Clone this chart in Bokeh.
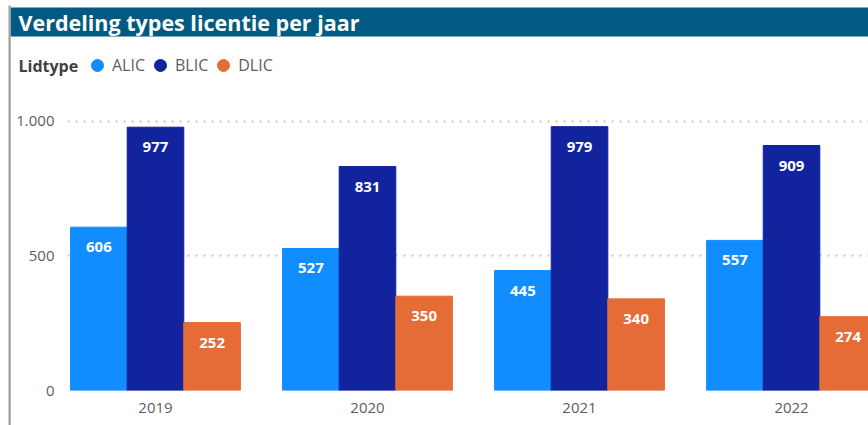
from bokeh.plotting import figure
from bokeh.models import (Range1d, FixedTicker, Label, Legend,
                          LegendItem, ColumnDataSource)
from bokeh.transform import dodge
from bokeh.embed import file_html
from bokeh.resources import INLINE
from bokeh.core.properties import value

# ---- data ----
years = ["2019", "2020", "2021", "2022"]
alic = [606, 527, 445, 557]
blic = [977, 831, 979, 909]
dlic = [252, 350, 340, 274]
series_names = ["ALIC", "BLIC", "DLIC"]
y_ticks = [0, 500, 1000]
y_tick_labels = ["0", "500", "1.000"]
title_text = "Verdeling types licentie per jaar"
legend_title = "Lidtype"

colors = ["#118DFF", "#12239E", "#E66C37"]
FONT = "Open Sans"
AXIS_COLOR = "#605E5C"
W, H = 868, 425

src = ColumnDataSource(dict(x=list(range(len(years))), ALIC=alic, BLIC=blic, DLIC=dlic,
                            ALIC_t=[str(v) for v in alic],
                            BLIC_t=[str(v) for v in blic],
                            DLIC_t=[str(v) for v in dlic]))

p = figure(width=W, height=H, x_range=Range1d(-0.415, 3.363),
           y_range=Range1d(0, 1254.2), output_backend="svg", toolbar_location=None,
           min_border_left=67, min_border_right=0, min_border_top=52,
           min_border_bottom=35)
p.outline_line_color = None

# left grey border line (placed in the left panel so it is not clipped)
p.add_layout(Label(x=8, y=5, x_units="canvas", y_units="canvas", text=".",
                   text_font_size="1px", text_align="left", text_baseline="top",
                   text_color="#A0A0A0", background_fill_color="#A0A0A0",
                   background_fill_alpha=1,
                   padding=dict(left=0, right=2, top=0, bottom=H)), "left")
# title bar
p.add_layout(Label(x=10, y=21.5, x_units="canvas", y_units="canvas",
                   text=title_text, text_color="white",
                   text_font=FONT, text_font_style="bold",
                   text_font_size="21.5px", text_baseline="middle",
                   background_fill_color="#005A82", background_fill_alpha=1,
                   padding=dict(left=8, right=700, top=0, bottom=0)), "above")
# legend heading
p.add_layout(Label(x=18, y=65, x_units="canvas", y_units="canvas",
                   text=legend_title, text_color="#404040",
                   text_font=FONT, text_font_style="bold",
                   text_font_size="16px", text_baseline="middle"), "above")

bw = 0.267
offsets = [-bw, 0, bw]
items = []
nan = float("nan")
for name, c, off in zip(series_names, colors, offsets):
    p.vbar(x=dodge("x", off), top=name, width=bw, source=src,
           fill_color=c, line_color=c)
    p.text(x=dodge("x", off), y=name, text=name + "_t", source=src,
           text_color="white", text_align="center", text_baseline="top",
           y_offset=15, text_font=value(FONT), text_font_size="15px",
           text_font_style="bold")
    r = p.scatter(x=[nan], y=[nan], marker="circle", size=12,
                  fill_color=c, line_color=c)
    items.append(LegendItem(label=name, renderers=[r]))

legend = Legend(items=items, orientation="horizontal", location=(15, 310),
                padding=0, margin=0, border_line_color=None, background_fill_alpha=0,
                glyph_width=30, glyph_height=30, label_height=30,
                label_standoff=-6, spacing=0,
                label_text_font=FONT, label_text_font_size="16px",
                label_text_color=AXIS_COLOR)
p.add_layout(legend)

p.xaxis.ticker = FixedTicker(ticks=list(range(len(years))))
p.xaxis.major_label_overrides = {i: y for i, y in enumerate(years)}
p.yaxis.ticker = FixedTicker(ticks=y_ticks)
p.yaxis.major_label_overrides = dict(zip(y_ticks, y_tick_labels))
for ax in (p.xaxis, p.yaxis):
    ax.axis_line_color = None
    ax.major_tick_line_color = None
    ax.minor_tick_line_color = None
    ax.major_label_text_font = FONT
    ax.major_label_text_font_size = "15px"
    ax.major_label_text_color = AXIS_COLOR
p.xaxis.major_label_standoff = 6
p.yaxis.major_label_standoff = 7

p.xgrid.visible = False
p.ygrid.ticker = FixedTicker(ticks=y_ticks)
p.ygrid.grid_line_color = "#C8C8C8"
p.ygrid.grid_line_dash = "2 6"
p.ygrid.grid_line_width = 2

open("out.html", "w").write(file_html(p, INLINE))
